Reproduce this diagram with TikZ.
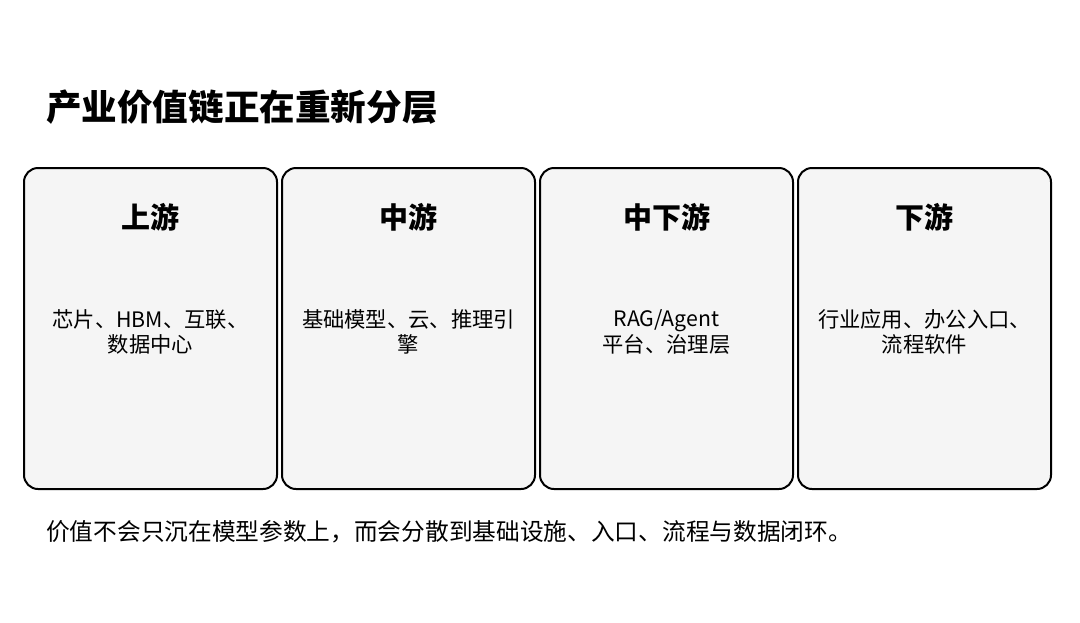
\documentclass[tikz,border=0pt]{standalone}
\usepackage{fontspec}
\setmainfont{Noto Sans CJK SC}
\begin{document}
\begin{tikzpicture}[x=1pt,y=-1pt,
  panel/.style={draw=black,line width=2pt,fill=black!4,rounded corners=14pt},
  headtext/.style={font=\fontsize{29}{34}\selectfont\bfseries,anchor=center,inner sep=0},
  bodytext/.style={font=\fontsize{21.3}{25.5}\selectfont,align=center,anchor=center,inner sep=0},
]
\useasboundingbox[fill=white] (0,0) rectangle (1080,622);
\node[anchor=west,inner sep=0,font=\fontsize{35.6}{40}\selectfont\bfseries] (title) at (46,107) {产业价值链正在重新分层};

\draw[panel] (24,168) rectangle (277,489) coordinate (p1);
\draw[panel] (282,168) rectangle (535,489) coordinate (p2);
\draw[panel] (540,168) rectangle (793,489) coordinate (p3);
\draw[panel] (798,168) rectangle (1051,489) coordinate (p4);

\node[headtext] (h1) at (150.5,217) {上游};
\node[headtext] (h2) at (408.5,217) {中游};
\node[headtext] (h3) at (666.5,217) {中下游};
\node[headtext] (h4) at (924.5,217) {下游};

\node[bodytext] (b1) at (150.5,332) {芯片、HBM、互联、\\数据中心};
\node[bodytext] (b2) at (408.5,332) {基础模型、云、推理引\\擎};
\node[bodytext] (b3) at (666.5,332) {RAG/Agent\\平台、治理层};
\node[bodytext] (b4) at (924.5,332) {行业应用、办公入口、\\流程软件};

\node[anchor=west,inner sep=0,font=\fontsize{23.7}{28}\selectfont] (note) at (46,532) {价值不会只沉在模型参数上，而会分散到基础设施、入口、流程与数据闭环。};
\end{tikzpicture}
\end{document}
